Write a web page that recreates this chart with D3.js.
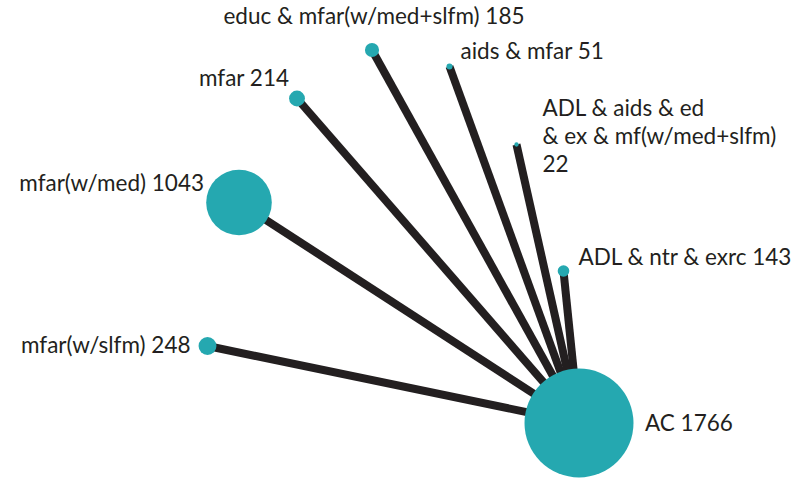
<!DOCTYPE html>
<html>
<head>
<meta charset="utf-8">
<script src="https://cdn.jsdelivr.net/npm/d3@7"></script>
<style>
  body { margin: 0; background: #fff; }
  text { font-family: Lato, "Open Sans", sans-serif; font-size: 22.5px; fill: #231f20; }
</style>
</head>
<body>
<script>
const w = 792
const h = 480

// treatments and number of participants
const names = ['AC', 'mfar(w/med)', 'mfar(w/slfm)', 'mfar', 'educ & mfar(w/med+slfm)',
  'aids & mfar', 'ADL & aids & ed & ex & mf(w/med+slfm)', 'ADL & ntr & exrc']
const sizes = [1766, 1043, 248, 214, 185, 51, 22, 143]

// node layout in plot units
const nodeX = [9.475, 0.975, 0.1875, 2.425, 4.3, 6.2375, 7.9125, 9.0875]
const nodeY = [9.575, 4.0625, 7.65, 1.4625, 0.25, 0.6625, 2.6125, 5.775]

// every comparison goes against AC
const edges = [[1, 0], [2, 0], [3, 0], [4, 0], [5, 0], [6, 0], [7, 0]]

const nodes = names.map((n, i) => ({ name: n, size: sizes[i], x: nodeX[i], y: nodeY[i] }))

// label placement: [dx, dy, anchor, lines]
const labelPos = [
  [66, 8, 'start', ['AC 1766']],
  [-35, -12, 'end', ['mfar(w/med) 1043']],
  [-17, 7, 'end', ['mfar(w/slfm) 248']],
  [-8, -13, 'end', ['mfar 214']],
  [2, -26, 'middle', ['educ & mfar(w/med+slfm) 185']],
  [11, -8, 'start', ['aids & mfar 51']],
  [26, -29, 'start', ['ADL & aids & ed', '& ex & mf(w/med+slfm)', '22']],
  [15, -6, 'start', ['ADL & ntr & exrc 143']]
]

const svg = d3.select('body')
  .append('svg')
  .attr('width', w)
  .attr('height', h)

const xScale = d3.scaleLinear().domain([0, 10]).range([200, 600])
const yScale = d3.scaleLinear().domain([0, 10]).range([40, 440])
const rScale = d3.scaleLinear().domain([0, 1766]).range([1.5, 54.5])

svg.selectAll('line.edge')
  .data(edges)
  .enter()
  .append('line')
  .attr('class', 'edge')
  .attr('x1', d => xScale(nodes[d[0]].x))
  .attr('y1', d => yScale(nodes[d[0]].y))
  .attr('x2', d => xScale(nodes[d[1]].x))
  .attr('y2', d => yScale(nodes[d[1]].y))
  .attr('stroke', '#231f20')
  .attr('stroke-width', 8)

svg.selectAll('circle')
  .data(nodes)
  .enter()
  .append('circle')
  .attr('cx', d => xScale(d.x))
  .attr('cy', d => yScale(d.y))
  .attr('r', d => rScale(d.size))
  .attr('fill', '#25a8b0')

nodes.forEach((d, i) => {
  const [dx, dy, anchor, lines] = labelPos[i]
  const t = svg.append('text')
    .attr('x', xScale(d.x) + dx)
    .attr('y', yScale(d.y) + dy)
    .attr('text-anchor', anchor)
  lines.forEach((l, j) => {
    t.append('tspan')
      .attr('x', xScale(d.x) + dx)
      .attr('dy', j === 0 ? 0 : 28)
      .text(l)
  })
})
</script>
</body>
</html>
